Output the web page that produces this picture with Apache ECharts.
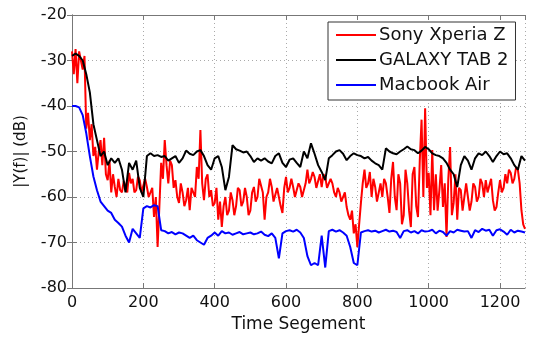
<!DOCTYPE html>
<html>
<head>
<meta charset="utf-8">
<script src="https://cdn.jsdelivr.net/npm/echarts@6/dist/echarts.min.js"></script>
<style>
  html, body { margin: 0; padding: 0; background: #fff; }
  #chart { width: 536px; height: 338px; }
</style>
</head>
<body>
<div id="chart"></div>
<script>
// time segment positions: red is read every 5 segments, the others every 10
const segments5 = [];
for (let s = 0; s <= 1270; s += 5) segments5.push(s);
const segments10 = [];
for (let s = 0; s <= 1270; s += 10) segments10.push(s);

// |Y(f)| in dB (red alternates band top / bottom)
const sonyXperiaZ = [
  -28, -33, -27.5, -35, -28, -30, -32, -29, -45, -41.5,
  -47.5, -44, -51, -49, -54, -50, -47.5, -53, -47, -55,
  -56.3, -52, -59, -55, -57.8, -60, -56, -58.5, -59, -56.5,
  -57.5, -59, -54.7, -57, -56, -59, -58.5, -55.5, -56.3, -59,
  -59, -56, -57.8, -60, -60, -58, -64.4, -60, -71, -62,
  -52.5, -56, -47.5, -53, -57, -52, -53, -58, -56.3, -60,
  -61.3, -57, -59, -62, -60.7, -58, -62.9, -58, -57.8, -60,
  -53.4, -56, -45.3, -57, -60.7, -56, -55, -60, -58.5, -62,
  -61.3, -58, -65, -61, -66.6, -62, -60, -64, -63, -59,
  -60.7, -64, -62, -58, -58.5, -62, -61, -58, -60, -64,
  -63, -59, -57.8, -61, -60, -56, -56.3, -59, -65, -60,
  -59, -56, -57.8, -61, -61, -58, -60, -62, -63.5, -58,
  -55.6, -59, -58, -56, -57.8, -60, -60, -57, -57.8, -60,
  -60, -57, -54, -57, -56, -54.5, -55.6, -58, -58, -55,
  -57.8, -55, -55.6, -58, -58, -56, -57, -59, -60, -58,
  -59, -61, -61, -59, -62.2, -64, -65, -63, -68, -66,
  -71, -66, -61.3, -57, -54, -58, -57, -54.5, -60, -56,
  -57.8, -61, -61, -57, -60, -56, -57, -60, -63.5, -56,
  -52.3, -60, -62.9, -55, -57, -66, -64, -54, -57, -63,
  -66.6, -55, -53.4, -62, -64.4, -52, -43, -60, -40.5, -58,
  -54.7, -64, -49.7, -62.9, -55, -63, -58.5, -53, -62.2, -57,
  -68.8, -56, -49, -64, -61.3, -55, -65, -58, -58.5, -63,
  -63, -57, -60, -63, -61, -57, -57.8, -61, -60, -56,
  -57, -60, -56.3, -59, -59, -56, -60.7, -63, -62.2, -59,
  -56.3, -59, -58, -55, -57, -54, -54.7, -57, -56, -53.5,
  -54, -57, -62.9, -66, -67
];
const galaxyTab2 = [
  -29, -28.5, -29, -30, -33, -37, -44, -47.5, -51, -50,
  -53, -51.5, -52.5, -51.5, -54, -59, -52.5, -54, -52, -58,
  -60, -51, -50.4, -51, -50.8, -51.2, -51, -52, -51.5, -51,
  -52.5, -51.5, -49.8, -50.5, -50.8, -50, -49.7, -51, -53, -54,
  -51.5, -51, -53.4, -58.5, -55.6, -48.6, -49.5, -49.8, -50.2, -50,
  -51, -52.3, -51.5, -52, -51.5, -52.2, -52.6, -51, -50.4, -52.5,
  -53.4, -51.8, -51.5, -52.5, -53.4, -50, -51.5, -48.2, -50.5, -53,
  -54.5, -56.3, -51.5, -50.8, -50, -49.7, -50.5, -51.9, -51, -50.4,
  -50.8, -51, -51.5, -51.2, -52, -52.6, -53, -54, -49.3, -50,
  -50.4, -50.6, -50, -49.5, -48.9, -49.5, -49.7, -50.4, -49.8, -49,
  -49.5, -50.4, -50.8, -51, -51.5, -52.5, -54, -55, -57.8, -53,
  -51, -52, -54, -51.5, -50.4, -50.8, -50, -51, -52.3, -51,
  -50, -50.6, -50.4, -51.5, -53, -54, -51, -52
];
const macbookAir = [
  -40, -40, -40.3, -42, -46, -51, -55.5, -58.5, -61, -62,
  -63, -63.5, -65, -65.7, -66.5, -68.5, -70, -67, -68, -69,
  -62.5, -62, -62.3, -61.8, -62, -67.3, -67.5, -68, -67.7, -68.2,
  -67.8, -68, -68.5, -69, -68.5, -69.5, -70, -70.5, -69, -68.5,
  -67.8, -68.5, -67.5, -68, -67.8, -68.3, -68, -67.7, -68.2, -68,
  -67.8, -68.2, -68, -67.6, -68.3, -68.6, -68, -69, -73.5, -68,
  -67.5, -67.3, -67.6, -67.2, -67.8, -69, -73, -75, -74.5, -75,
  -68.5, -75.5, -67.5, -67.2, -67.6, -67.3, -67.8, -68.5, -71, -74.5,
  -75, -67.8, -67.5, -67.3, -67.6, -67.4, -67.8, -67.5, -67.2, -67.6,
  -67.4, -67.7, -69, -67.5, -67.3, -67.8, -67.5, -68, -67.3, -67.6,
  -67.5, -67.2, -68, -67.4, -67.7, -68.5, -67.5, -67.8, -67.2, -67.4,
  -67.6, -67.5, -69, -67.3, -67.7, -67, -67.4, -67.2, -68.5, -67.3,
  -67.1, -67.6, -68.3, -67.2, -67.8, -67.4, -67.6, -67.8
];

const seriesNames = ["Sony Xperia Z", "GALAXY TAB 2", "Macbook Air"];
const seriesColors = ["#ff0000", "#000000", "#0000ff"];
const seriesValues = [sonyXperiaZ, galaxyTab2, macbookAir];
const seriesSegments = [segments5, segments10, segments10];

const chart = echarts.init(document.getElementById("chart"));
const font = "DejaVu Sans";

const gridLine = { show: true, lineStyle: { color: "#aaa", type: [1, 3], width: 1 } };
const frameLine = { show: true, lineStyle: { color: "#777", width: 1 } };
const inTick = { show: true, inside: true, length: 5, lineStyle: { color: "#777" } };

const option = {
  backgroundColor: "#fff",
  animation: false,
  grid: { left: 72, right: 11, top: 15, bottom: 49 },
  legend: {
    orient: "vertical",
    left: 328,
    top: 22,
    padding: [4, 7, 6, 8],
    itemGap: 7,
    itemWidth: 40,
    itemHeight: 2,
    icon: "rect",
    backgroundColor: "#fff",
    borderColor: "#333",
    borderWidth: 1,
    borderRadius: 0,
    textStyle: { fontFamily: font, fontSize: 18, color: "#111", padding: [0, 0, 0, -2] },
    data: seriesNames
  },
  xAxis: [
    {
      type: "value",
      min: 0,
      max: 1270,
      interval: 200,
      name: "Time Segement",
      nameLocation: "middle",
      nameGap: 28,
      nameTextStyle: { fontFamily: font, fontSize: 17, color: "#111" },
      axisLine: frameLine,
      axisTick: inTick,
      axisLabel: {
        fontFamily: font, fontSize: 16, color: "#111", margin: 7, showMaxLabel: false,
        formatter: (v) => String(v)
      },
      splitLine: gridLine
    },
    {
      type: "value",
      position: "top",
      min: 0,
      max: 1270,
      interval: 200,
      axisLine: frameLine,
      axisTick: inTick,
      axisLabel: { show: false },
      splitLine: { show: false }
    }
  ],
  yAxis: [
    {
      type: "value",
      min: -80,
      max: -20,
      interval: 10,
      name: "|Y(f)| (dB)",
      nameLocation: "middle",
      nameGap: 43,
      nameTextStyle: { fontFamily: font, fontSize: 15, color: "#111" },
      axisLine: frameLine,
      axisTick: inTick,
      axisLabel: { fontFamily: font, fontSize: 16, color: "#111", margin: 5 },
      splitLine: gridLine
    },
    {
      type: "value",
      position: "right",
      min: -80,
      max: -20,
      interval: 10,
      axisLine: frameLine,
      axisTick: inTick,
      axisLabel: { show: false },
      splitLine: { show: false }
    }
  ],
  series: seriesNames.map((name, i) => ({
    name: name,
    type: "line",
    showSymbol: false,
    symbol: "none",
    color: seriesColors[i],
    lineStyle: { width: 2, color: seriesColors[i] },
    data: seriesSegments[i].map((s, k) => [s, seriesValues[i][k]])
  }))
};

chart.setOption(option);
</script>
</body>
</html>
